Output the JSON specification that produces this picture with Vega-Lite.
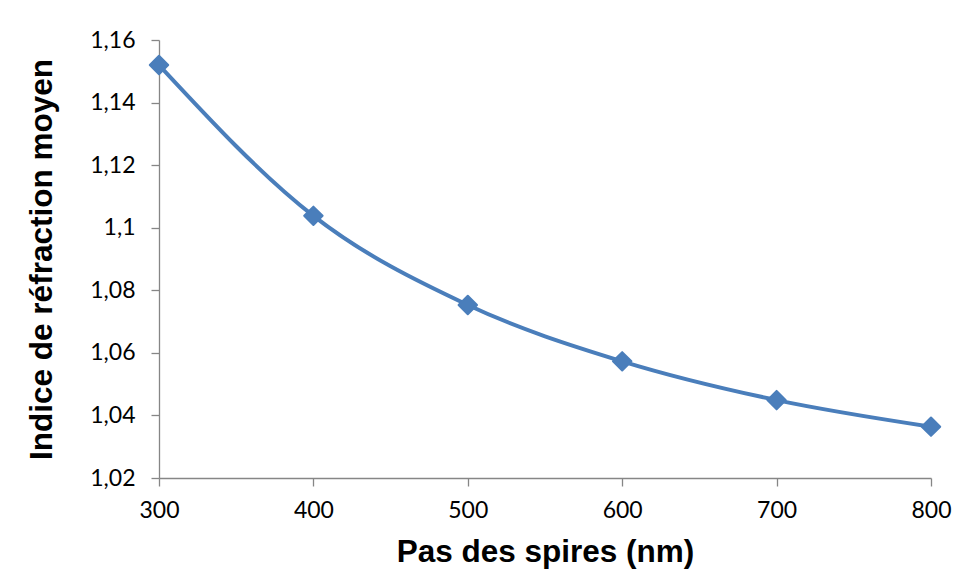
{
  "$schema": "https://vega.github.io/schema/vega-lite/v6.json",
  "autosize": {"type": "none"},
  "width": 772,
  "height": 438,
  "padding": {"left": 159, "top": 40, "right": 31, "bottom": 102},
  "background": "white",
  "config": {
    "view": {"stroke": null},
    "locale": {"number": {"decimal": ",", "thousands": " ", "grouping": [3], "currency": ["", " €"]}},
    "axis": {
      "grid": false,
      "domainColor": "#868686",
      "tickColor": "#868686",
      "domainWidth": 1.3,
      "tickWidth": 1.3,
      "tickSize": 8,
      "labelFont": "Lato",
      "labelFontSize": 23,
      "labelColor": "#000000",
      "titleFont": "Liberation Sans",
      "titleFontWeight": "bold",
      "titleFontSize": 31.5,
      "titleColor": "#000000"
    }
  },
  "data": {
    "values": [
      {"pas": 300, "indice": 1.152},
      {"pas": 400, "indice": 1.1038},
      {"pas": 500, "indice": 1.0753},
      {"pas": 600, "indice": 1.0573},
      {"pas": 700, "indice": 1.0449},
      {"pas": 800, "indice": 1.0364}
    ]
  },
  "encoding": {
    "x": {
      "field": "pas", "type": "quantitative",
      "scale": {"domain": [300, 800], "nice": false, "zero": false},
      "axis": {"title": "Pas des spires (nm)", "values": [300, 400, 500, 600, 700, 800], "labelFlush": false, "labelPadding": 13, "titlePadding": 14, "format": "d"}
    },
    "y": {
      "field": "indice", "type": "quantitative",
      "scale": {"domain": [1.02, 1.16], "nice": false, "zero": false},
      "axis": {"title": "Indice de réfraction moyen", "values": [1.02, 1.04, 1.06, 1.08, 1.1, 1.12, 1.14, 1.16], "format": ".2~f", "labelPadding": 16, "titlePadding": 31}
    }
  },
  "layer": [
    {"mark": {"type": "line", "interpolate": "monotone", "color": "#4a7ebb", "strokeWidth": 4}},
    {"mark": {"type": "point", "shape": "diamond", "filled": true, "color": "#4a7ebb", "opacity": 1, "size": 340, "stroke": "#4a7ebb", "strokeWidth": 2, "strokeJoin": "round"}}
  ]
}
